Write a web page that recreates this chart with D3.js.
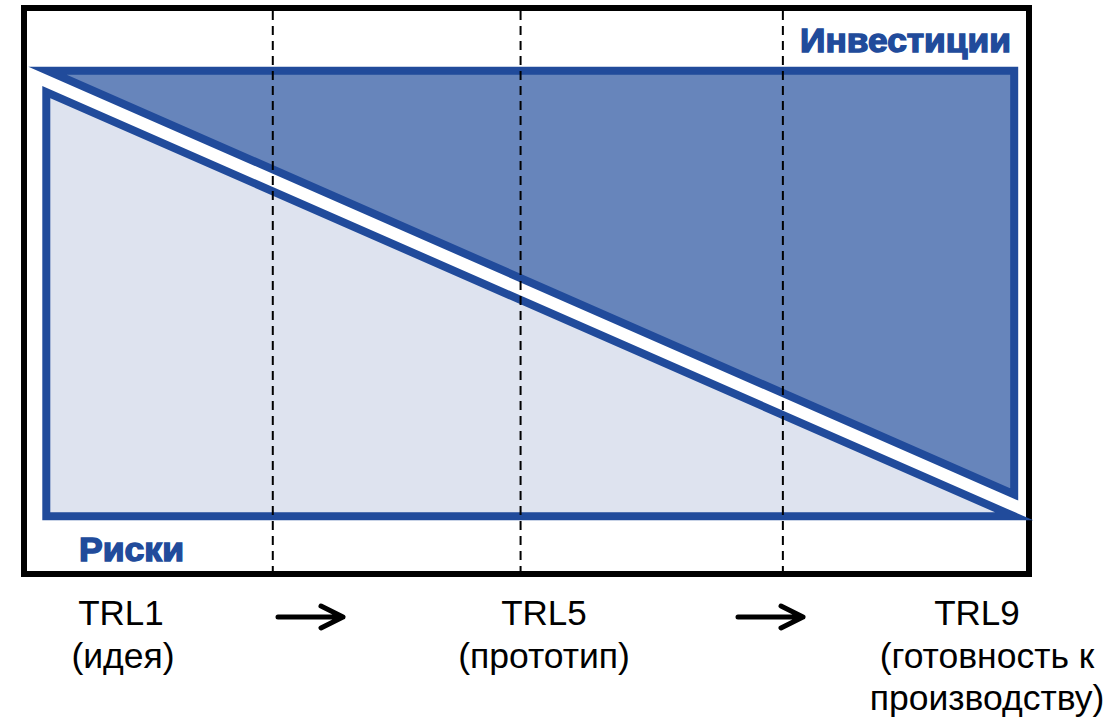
<!DOCTYPE html>
<html>
<head>
<meta charset="utf-8">
<script src="https://cdn.jsdelivr.net/npm/d3@7"></script>
<style>
  html, body { margin: 0; padding: 0; background: #ffffff; }
  svg { display: block; }
</style>
</head>
<body>
<svg id="chart" width="1109" height="724"></svg>
<script>
// ---- data ----
const seriesNames = ["Инвестиции", "Риски"];
// polygons in (progress %, level %) space
const investShape = [[0.12, 100], [100, 100], [100, 4.9]];
const riskShape = [[0, 95.2], [0, 0], [100, 0]];
// stage dividers (progress %)
const dividers = [23.4, 49.0, 76.1];
const stageLabels = ["TRL1", "TRL5", "TRL9"];
const stageNotes = [["(идея)"], ["(прототип)"], ["(готовность к", "производству)"]];

// ---- layout ----
const blue = "#214b9b";
const darkFill = "#6785bb";
const lightFill = "#dee3ef";

const svg = d3.select("#chart");

const x = d3.scaleLinear().domain([0, 100]).range([46.3, 1014.2]);
const y = d3.scaleLinear().domain([0, 100]).range([516.3, 70.7]);

// frame
svg.append("rect")
  .attr("x", 24).attr("y", 8)
  .attr("width", 1005).attr("height", 566)
  .attr("fill", "#ffffff")
  .attr("stroke", "#000").attr("stroke-width", 6);

const line = d3.line()
  .x(d => x(d[0]))
  .y(d => y(d[1]))
  .curve(d3.curveLinearClosed);

svg.append("path")
  .attr("d", line(riskShape))
  .attr("fill", lightFill)
  .attr("stroke", blue)
  .attr("stroke-width", 8)
  .attr("stroke-linejoin", "miter")
  .attr("stroke-miterlimit", 12);

svg.append("path")
  .attr("d", line(investShape))
  .attr("fill", darkFill)
  .attr("stroke", blue)
  .attr("stroke-width", 8)
  .attr("stroke-linejoin", "miter")
  .attr("stroke-miterlimit", 12);

// dashed dividers
svg.selectAll("line.div")
  .data(dividers)
  .enter().append("line")
  .attr("class", "div")
  .attr("x1", d => x(d)).attr("x2", d => x(d))
  .attr("y1", 11).attr("y2", 571)
  .attr("stroke", "#000")
  .attr("stroke-width", 2)
  .attr("stroke-dasharray", "9,6");

// series labels
svg.append("text")
  .attr("x", 1011).attr("y", 51.5)
  .attr("text-anchor", "end")
  .attr("font-family", "Liberation Sans, Arial, sans-serif")
  .attr("font-weight", "bold")
  .attr("font-size", 33)
  .attr("fill", blue).attr("stroke", blue).attr("stroke-width", 1.4)
  .attr("textLength", 211).attr("lengthAdjust", "spacingAndGlyphs")
  .text(seriesNames[0]);

svg.append("text")
  .attr("x", 79).attr("y", 560.5)
  .attr("text-anchor", "start")
  .attr("font-family", "Liberation Sans, Arial, sans-serif")
  .attr("font-weight", "bold")
  .attr("font-size", 33)
  .attr("fill", blue).attr("stroke", blue).attr("stroke-width", 1.4)
  .attr("textLength", 105).attr("lengthAdjust", "spacingAndGlyphs")
  .text(seriesNames[1]);

// stage labels
const labelCenters = [121, 544, 977];
const noteCenters = [123, 544, 987];
const baseY = 625, lineStep = 42.5;
const fontStage = "Liberation Sans, Arial, Helvetica, sans-serif";

stageLabels.forEach((s, i) => {
  svg.append("text")
    .attr("x", labelCenters[i]).attr("y", baseY)
    .attr("text-anchor", "middle")
    .attr("font-family", fontStage)
    .attr("font-size", 35)
    .attr("fill", "#000")
    .text(s);
  stageNotes[i].forEach((n, j) => {
    svg.append("text")
      .attr("x", noteCenters[i]).attr("y", baseY + lineStep * (j + 1))
      .attr("text-anchor", "middle")
      .attr("font-family", fontStage)
      .attr("font-size", 35.5)
      .attr("fill", "#000")
      .text(n);
  });
});

// arrows between stages
const arrows = [[278, 345], [738, 805]];
arrows.forEach(([a, b]) => {
  const ay = 617;
  svg.append("path")
    .attr("d", `M${a},${ay} L${b - 2},${ay} M${b - 24},${ay - 11} L${b - 2},${ay} L${b - 24},${ay + 11}`)
    .attr("fill", "none")
    .attr("stroke", "#000")
    .attr("stroke-width", 5)
    .attr("stroke-linecap", "round")
    .attr("stroke-linejoin", "round");
});
</script>
</body>
</html>
